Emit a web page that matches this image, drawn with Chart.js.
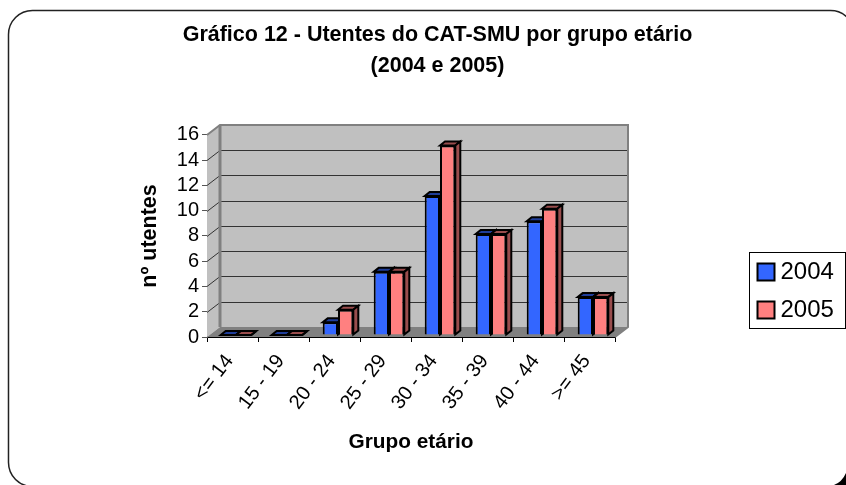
<!DOCTYPE html>
<html>
<head>
<meta charset="utf-8">
<script src="https://cdn.jsdelivr.net/npm/chart.js@4/dist/chart.umd.min.js"></script>
<style>
    html, body { margin: 0; padding: 0; background: #fff; overflow: hidden; }
    #wrap { width: 846px; height: 485px; position: relative; }
</style>
</head>
<body>
<div id="wrap"><canvas id="chart" width="846" height="485"></canvas></div>
<script>
const categories = ['<= 14', '15 - 19', '20 - 24', '25 - 29', '30 - 34', '35 - 39', '40 - 44', '>= 45'];
const values2004 = [0, 0, 1, 5, 11, 8, 9, 3];
const values2005 = [0, 0, 2, 5, 15, 8, 10, 3];
const titleLines = ['Gráfico 12 - Utentes do CAT-SMU por grupo etário', '(2004 e 2005)'];

const FONT = '"Liberation Sans", Arial, sans-serif';

// depth of the fake 3D box around the plot
const WALL_DX = 13, WALL_DY = -10;
// bars sit slightly inside the floor, and have their own small depth
const BAR_DX = 3.5, BAR_DY = -2, BAR_DEPTH_X = 5, BAR_DEPTH_Y = 4;

function poly(ctx, pts, fill, stroke, lw) {
    ctx.beginPath();
    pts.forEach((p, i) => i ? ctx.lineTo(p[0], p[1]) : ctx.moveTo(p[0], p[1]));
    ctx.closePath();
    if (fill) { ctx.fillStyle = fill; ctx.fill(); }
    if (stroke) { ctx.strokeStyle = stroke; ctx.lineWidth = lw; ctx.stroke(); }
}

const frame = {
    id: 'frame',
    beforeDraw(chart) {
        const ctx = chart.ctx;
        ctx.save();
        ctx.beginPath();
        ctx.roundRect(8.5, 10.5, 846, 476, 24);
        ctx.strokeStyle = '#222';
        ctx.lineWidth = 1.5;
        ctx.stroke();
        // dark corner at the bottom right
        ctx.beginPath();
        ctx.moveTo(834, 485);
        ctx.quadraticCurveTo(842, 482, 846, 473);
        ctx.lineTo(846, 485);
        ctx.closePath();
        ctx.fillStyle = '#000';
        ctx.fill();
        ctx.restore();
    }
};

function drawWalls(chart) {
    const ctx = chart.ctx, a = chart.chartArea, y = chart.scales.y;
    const l = a.left, r = a.right, t = a.top, b = a.bottom;
    const dx = WALL_DX, dy = WALL_DY;
    ctx.save();
    poly(ctx, [[l + dx, t + dy], [r + dx, t + dy], [r + dx, b + dy], [l + dx, b + dy]], '#c0c0c0');
    poly(ctx, [[l, t], [l + dx, t + dy], [l + dx, b + dy], [l, b]], '#c0c0c0');
    poly(ctx, [[l, b], [l + dx, b + dy], [r + dx, b + dy], [r, b]], '#808080');
    // grid lines on back and side wall
    y.ticks.forEach(tk => {
        if (tk.value === 0 || tk.value === 16) return;
        const py = Math.round(y.getPixelForValue(tk.value)) + 0.5;
        ctx.beginPath();
        ctx.moveTo(l, py);
        ctx.lineTo(l + dx, py + dy);
        ctx.lineTo(r + dx, py + dy);
        ctx.strokeStyle = '#333';
        ctx.lineWidth = 1;
        ctx.stroke();
    });
    // wall edges
    ctx.strokeStyle = '#808080';
    ctx.lineWidth = 2;
    ctx.beginPath();
    ctx.moveTo(l, t);
    ctx.lineTo(l + dx, t + dy);
    ctx.lineTo(r + dx, t + dy);
    ctx.lineTo(r + dx, b + dy);
    ctx.lineTo(r, b);
    ctx.stroke();
    ctx.lineWidth = 3;
    ctx.beginPath();
    ctx.moveTo(l + dx, t + dy);
    ctx.lineTo(l + dx, b + dy);
    ctx.stroke();
    ctx.restore();
}

function drawBarFaces(chart, meta) {
    const ctx = chart.ctx, ds = chart.data.datasets[meta.index];
    meta.data.forEach(bar => {
        const x0 = bar.x - bar.width / 2, x1 = bar.x + bar.width / 2;
        const top = bar.y, base = bar.base;
        const ddx = BAR_DEPTH_X, ddy = BAR_DEPTH_Y;
        poly(ctx, [[x0, top], [x0 + ddx, top - ddy], [x1 + ddx, top - ddy], [x1, top]], ds.shadeColor, '#000', 2);
        poly(ctx, [[x1, top], [x1 + ddx, top - ddy], [x1 + ddx, base - ddy], [x1, base]], ds.shadeColor, '#000', 2);
    });
}

const box3d = {
    id: 'box3d',
    beforeDatasetsDraw(chart) {
        drawWalls(chart);
        // first series first, so the second one covers its side face
        const ctx = chart.ctx;
        ctx.save();
        ctx.translate(BAR_DX, BAR_DY);
        chart.getSortedVisibleDatasetMetas().forEach(meta => {
            drawBarFaces(chart, meta);
            meta.controller.draw();
        });
        ctx.restore();
        return false;
    },
    afterDraw(chart) {
        // legend box, right of the plot
        const ctx = chart.ctx;
        const x = 749.5, y = 252.5;
        ctx.save();
        ctx.strokeStyle = '#000';
        ctx.lineWidth = 1;
        ctx.strokeRect(x, y, 96, 76);
        chart.data.datasets.forEach((ds, i) => {
            const rowY = y + 11 + i * 38;
            ctx.fillStyle = ds.backgroundColor;
            ctx.fillRect(x + 8, rowY, 17, 17);
            ctx.strokeStyle = '#000';
            ctx.lineWidth = 2;
            ctx.strokeRect(x + 8, rowY, 17, 17);
            ctx.fillStyle = '#000';
            ctx.font = '24px ' + FONT;
            ctx.textBaseline = 'middle';
            ctx.textAlign = 'left';
            ctx.fillText(ds.label, x + 31, rowY + 9);
        });
        ctx.restore();
    }
};

new Chart(document.getElementById('chart'), {
    type: 'bar',
    data: {
        labels: categories,
        datasets: [
            { label: '2004', data: values2004, backgroundColor: '#3366ff', shadeColor: '#1f3d99', borderColor: '#000', borderWidth: 2 },
            { label: '2005', data: values2005, backgroundColor: '#ff8080', shadeColor: '#994d4d', borderColor: '#000', borderWidth: 2 }
        ]
    },
    plugins: [frame, box3d],
    options: {
        responsive: false,
        animation: false,
        layout: { padding: { left: 133, right: 104, top: 0, bottom: 26 } },
        datasets: { bar: { categoryPercentage: 0.6, barPercentage: 1 } },
        plugins: {
            legend: { display: false },
            tooltip: { enabled: false },
            title: {
                display: true,
                text: titleLines,
                color: '#000',
                font: { family: FONT, size: 21.5, weight: 'bold', lineHeight: 1.44 },
                padding: { top: 20, bottom: 53 }
            }
        },
        scales: {
            x: {
                afterFit(s) { s.height = 122; },
                grid: { drawOnChartArea: false, color: '#000', tickLength: 5 },
                border: { color: '#000' },
                ticks: { color: '#000', font: { family: FONT, size: 20 }, minRotation: 53, maxRotation: 53, padding: 8, labelOffset: -3, autoSkip: false },
                title: { display: true, text: 'Grupo etário', color: '#000', font: { family: FONT, size: 20.8, weight: 'bold' } }
            },
            y: {
                min: 0,
                max: 16,
                afterFit(s) { s.width = 74; },
                grid: { drawOnChartArea: false, color: '#555', tickLength: 5 },
                border: { color: '#555' },
                ticks: { stepSize: 2, color: '#000', font: { family: FONT, size: 20 }, padding: 3, autoSkip: false },
                title: { display: true, text: 'nº utentes', color: '#000', font: { family: FONT, size: 21.5, weight: 'bold' } }
            },
            // empty axis, only reserves the room for the legend
            spacer: {
                position: 'right',
                grid: { display: false },
                border: { display: false },
                ticks: { display: false },
                afterFit(s) { s.width = 127; }
            }
        }
    }
});
</script>
</body>
</html>
